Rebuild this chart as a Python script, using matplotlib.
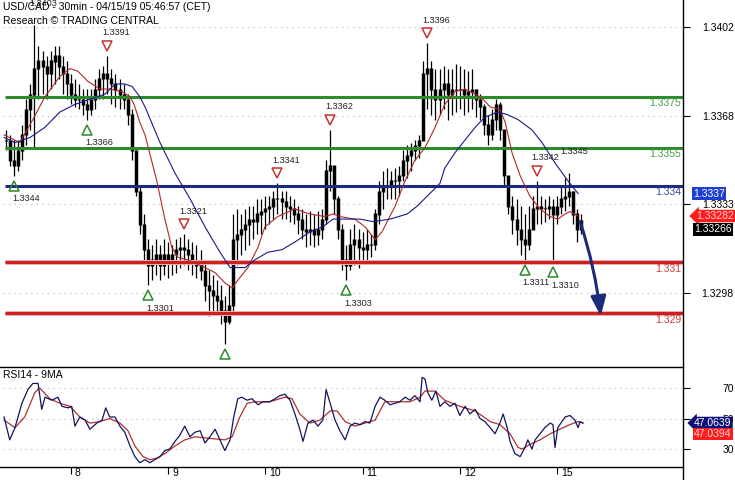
"""USD/CAD 30min chart with support/resistance levels, MAs and RSI panel."""
import numpy as np
import matplotlib
matplotlib.use("Agg")
import matplotlib.pyplot as plt
import matplotlib.transforms as mtrans
from matplotlib.lines import Line2D

plt.rcParams["font.family"] = ["Liberation Sans", "DejaVu Sans"]

# ---- data: hourly bars, x = hours from Mon 04/08 00:00 (trading time) ----
bar_h = list(range(-16, 127))
high = [
    1.3362, 1.3360, 1.3358, 1.3358, 1.3364, 1.3374, 1.3380, 1.3403, 1.3395, 1.3393,
    1.3391, 1.3393, 1.3395, 1.3395, 1.3391, 1.3389, 1.3384, 1.3382, 1.3380, 1.3378,
    1.3378, 1.3378, 1.3382, 1.3386, 1.3387, 1.3391, 1.3386, 1.3384, 1.3382, 1.3380,
    1.3376, 1.3370, 1.3354, 1.3340, 1.3329, 1.3319, 1.3317, 1.3319, 1.3317, 1.3319,
    1.3318, 1.3317, 1.3319, 1.3320, 1.3321, 1.3319, 1.3318, 1.3317, 1.3315, 1.3310,
    1.3307, 1.3305, 1.3303, 1.3301, 1.3297, 1.3301, 1.3329, 1.3331, 1.3329, 1.3331,
    1.3332, 1.3332, 1.3335, 1.3335, 1.3336, 1.3336, 1.3338, 1.3341, 1.3338, 1.3338,
    1.3336, 1.3335, 1.3332, 1.3331, 1.3329, 1.3330, 1.3329, 1.3330, 1.3331, 1.3350,
    1.3362, 1.3348, 1.3336, 1.3325, 1.3317, 1.3323, 1.3325, 1.3323, 1.3322, 1.3323,
    1.3321, 1.3331, 1.3342, 1.3346, 1.3347, 1.3346, 1.3347, 1.3348, 1.3354, 1.3356,
    1.3357, 1.3358, 1.3360, 1.3389, 1.3396, 1.3389, 1.3386, 1.3386, 1.3387, 1.3386,
    1.3386, 1.3388, 1.3387, 1.3386, 1.3385, 1.3386, 1.3378, 1.3376, 1.3372, 1.3368,
    1.3370, 1.3374, 1.3373, 1.3362, 1.3344, 1.3336, 1.3335, 1.3332, 1.3329, 1.3332,
    1.3336, 1.3342, 1.3336, 1.3335, 1.3336, 1.3335, 1.3336, 1.3340, 1.3343, 1.3345,
    1.3338, 1.3331, 1.3329]
low = [
    1.3354, 1.3348, 1.3344, 1.3346, 1.3350, 1.3356, 1.3362, 1.3355, 1.3374, 1.3376,
    1.3374, 1.3378, 1.3380, 1.3382, 1.3376, 1.3374, 1.3372, 1.3371, 1.3370, 1.3368,
    1.3366, 1.3368, 1.3370, 1.3374, 1.3374, 1.3376, 1.3372, 1.3371, 1.3370, 1.3370,
    1.3364, 1.3350, 1.3336, 1.3321, 1.3310, 1.3301, 1.3303, 1.3305, 1.3303, 1.3305,
    1.3304, 1.3305, 1.3306, 1.3308, 1.3309, 1.3307, 1.3305, 1.3304, 1.3303, 1.3295,
    1.3289, 1.3291, 1.3291, 1.3286, 1.3278, 1.3286, 1.3291, 1.3309, 1.3313, 1.3315,
    1.3317, 1.3319, 1.3321, 1.3321, 1.3323, 1.3325, 1.3327, 1.3329, 1.3327, 1.3327,
    1.3326, 1.3325, 1.3321, 1.3319, 1.3316, 1.3317, 1.3316, 1.3317, 1.3319, 1.3325,
    1.3338, 1.3329, 1.3319, 1.3307, 1.3303, 1.3307, 1.3309, 1.3308, 1.3310, 1.3310,
    1.3312, 1.3315, 1.3325, 1.3331, 1.3335, 1.3335, 1.3335, 1.3336, 1.3342, 1.3343,
    1.3346, 1.3350, 1.3351, 1.3358, 1.3370, 1.3368, 1.3366, 1.3368, 1.3370, 1.3366,
    1.3368, 1.3369, 1.3370, 1.3368, 1.3369, 1.3370, 1.3367, 1.3366, 1.3360, 1.3356,
    1.3358, 1.3362, 1.3358, 1.3340, 1.3329, 1.3321, 1.3317, 1.3313, 1.3311, 1.3315,
    1.3323, 1.3325, 1.3325, 1.3326, 1.3327, 1.3310, 1.3325, 1.3329, 1.3330, 1.3332,
    1.3325, 1.3318, 1.3321]
close = [
    1.3358, 1.3350, 1.3348, 1.3354, 1.3360, 1.3370, 1.3376, 1.3386, 1.3389, 1.3387,
    1.3384, 1.3389, 1.3391, 1.3387, 1.3384, 1.3380, 1.3376, 1.3374, 1.3374, 1.3372,
    1.3370, 1.3374, 1.3378, 1.3382, 1.3384, 1.3382, 1.3380, 1.3378, 1.3376, 1.3374,
    1.3368, 1.3354, 1.3338, 1.3325, 1.3315, 1.3309, 1.3311, 1.3313, 1.3309, 1.3313,
    1.3311, 1.3313, 1.3315, 1.3316, 1.3315, 1.3313, 1.3310, 1.3309, 1.3307, 1.3301,
    1.3299, 1.3297, 1.3295, 1.3291, 1.3287, 1.3293, 1.3319, 1.3321, 1.3323, 1.3325,
    1.3327, 1.3326, 1.3329, 1.3330, 1.3331, 1.3332, 1.3335, 1.3335, 1.3334, 1.3332,
    1.3331, 1.3329, 1.3327, 1.3323, 1.3322, 1.3323, 1.3321, 1.3323, 1.3327, 1.3346,
    1.3348, 1.3335, 1.3323, 1.3311, 1.3309, 1.3317, 1.3319, 1.3316, 1.3315, 1.3317,
    1.3317, 1.3329, 1.3338, 1.3340, 1.3340, 1.3342, 1.3342, 1.3344, 1.3350, 1.3352,
    1.3354, 1.3356, 1.3358, 1.3384, 1.3386, 1.3378, 1.3374, 1.3378, 1.3380, 1.3376,
    1.3378, 1.3378, 1.3378, 1.3376, 1.3377, 1.3378, 1.3374, 1.3371, 1.3364, 1.3360,
    1.3366, 1.3372, 1.3362, 1.3344, 1.3332, 1.3327, 1.3323, 1.3319, 1.3317, 1.3323,
    1.3331, 1.3332, 1.3331, 1.3331, 1.3332, 1.3329, 1.3332, 1.3335, 1.3336, 1.3338,
    1.3329, 1.3323, 1.33266]

ma_fast_h = [-16.5, -12.6, -9.4, -6.4, -2.7, -0.2, 1.7, 4.2, 7.2, 9.6,
             12.6, 14.6, 15.6, 17.0, 18.3, 21.2, 23.2, 24.9, 26.4, 28.9,
             33.1, 35.6, 38.0, 39.8, 41.2, 43.7, 46.2, 47.9, 51.1, 55.3,
             59.0, 62.7, 64.7, 66.4, 70.1, 72.6, 75.1, 76.8, 80.0, 82.5,
             84.9, 87.4, 89.9, 92.3, 94.8, 97.3, 99.8, 101.7, 103.5, 105.9,
             107.2, 108.9, 110.9, 113.3, 115.8, 118.3, 120.2, 122.0, 123.2, 125.2]
ma_fast_p = [1.3360, 1.3357, 1.3366, 1.3375, 1.3383, 1.3386, 1.3385, 1.3381, 1.3378, 1.3378,
             1.3377, 1.3375, 1.3372, 1.3365, 1.3360, 1.3342, 1.3327, 1.3316, 1.3312, 1.3311,
             1.3308, 1.3306, 1.3302, 1.3300, 1.3303, 1.3308, 1.3316, 1.3324, 1.3328, 1.3331,
             1.3329, 1.3328, 1.3329, 1.3328, 1.3327, 1.3324, 1.3319, 1.3322, 1.3332, 1.3342,
             1.3350, 1.3355, 1.3363, 1.3372, 1.3377, 1.3378, 1.3376, 1.3374, 1.3371, 1.3370,
             1.3365, 1.3353, 1.3344, 1.3336, 1.3331, 1.3328, 1.3327, 1.3329, 1.3330, 1.33282]
ma_slow_h = [-16.5, -13.8, -10.1, -6.4, -2.7, 1.0, 4.7, 8.4, 10.9, 13.3,
             15.1, 17.0, 18.3, 22.0, 25.7, 29.4, 33.1, 36.8, 39.3, 40.5,
             43.0, 45.4, 48.6, 52.1, 55.3, 59.0, 62.2, 64.7, 67.7, 71.4,
             74.6, 78.8, 83.0, 85.4, 88.6, 91.1, 92.3, 94.8, 99.8, 102.2,
             105.4, 107.7, 110.4, 113.8, 116.3, 119.5, 122.7, 125.2]
ma_slow_p = [1.3359, 1.3357, 1.3359, 1.3363, 1.3369, 1.3372, 1.3374, 1.3376, 1.3380, 1.3380,
             1.3379, 1.3375, 1.3371, 1.3357, 1.3345, 1.3335, 1.3324, 1.3314, 1.3308, 1.3308,
             1.3308, 1.3311, 1.3314, 1.3315, 1.3318, 1.3322, 1.3324, 1.3327, 1.3327, 1.3327,
             1.3326, 1.3327, 1.3329, 1.3332, 1.3337, 1.3341, 1.3347, 1.3353, 1.3363, 1.3367,
             1.3369, 1.3368, 1.3366, 1.3362, 1.3357, 1.3349, 1.3342, 1.3337]

rsi_h = [-16.5, -15.1, -13.8, -12.1, -10.6, -9.4, -8.1, -7.2, -6.4, -4.7,
         -3.2, -2.2, -0.7, 0.2, 1.0, 2.2, 3.5, 4.7, 6.4, 7.7,
         8.6, 9.6, 10.9, 12.1, 13.3, 14.6, 15.8, 17.0, 18.3, 19.5,
         20.7, 22.0, 23.2, 24.4, 25.7, 26.9, 28.1, 29.4, 30.6, 31.9,
         33.1, 34.3, 35.6, 36.8, 38.0, 39.3, 40.2, 41.2, 42.2, 43.5,
         44.7, 46.2, 47.4, 49.1, 50.4, 51.6, 52.8, 54.1, 55.3, 56.5,
         57.3, 58.5, 59.8, 61.0, 62.2, 63.0, 64.0, 65.2, 66.4, 67.7,
         68.9, 70.1, 71.4, 72.6, 73.8, 75.1, 76.3, 77.5, 78.8, 80.0,
         81.2, 82.5, 83.7, 84.9, 86.2, 86.7, 87.4, 88.1, 89.1, 90.1,
         91.1, 92.3, 93.6, 94.8, 96.0, 97.3, 98.5, 99.8, 101.0, 102.2,
         103.5, 104.7, 105.9, 106.7, 107.7, 108.4, 109.6, 110.9, 112.1, 112.8,
         113.8, 114.6, 115.8, 117.0, 118.3, 119.0, 119.5, 120.2, 121.2, 122.0,
         123.2, 124.4, 125.2, 125.7, 126.4]
rsi_v = [51, 36, 44, 60, 69, 73, 73, 56, 64, 62,
         64, 58, 57, 58, 45, 51, 49, 43, 47, 49,
         57, 51, 51, 45, 41, 32, 25, 21, 23, 21,
         23, 25, 29, 30, 35, 39, 45, 38, 41, 42,
         34, 38, 43, 36, 29, 36, 51, 63, 64, 62,
         63, 59, 61, 61, 63, 65, 66, 62, 53, 43,
         35, 47, 49, 45, 49, 69, 60, 49, 42, 36,
         45, 47, 46, 48, 47, 58, 64, 62, 59, 60,
         61, 64, 62, 65, 61, 77, 76, 67, 62, 68,
         58, 61, 58, 60, 52, 58, 53, 56, 50, 48,
         44, 40, 47, 53, 44, 35, 27, 25, 31, 36,
         30, 36, 40, 44, 47, 46, 31, 44, 48, 51,
         52, 49, 44, 48, 47.0639]
rsi_ma_h = [-16.5, -13.8, -11.4, -8.9, -7.7, -5.2, -2.7, -0.2, 2.2, 4.7,
            7.2, 9.6, 12.1, 14.1, 15.8, 17.8, 19.5, 21.2, 23.2, 25.7,
            28.1, 30.6, 34.3, 38.0, 39.8, 41.7, 43.5, 45.4, 49.1, 52.8,
            54.6, 56.5, 59.0, 61.5, 64.0, 65.7, 67.7, 70.1, 72.6, 75.1,
            77.5, 80.0, 83.7, 86.2, 87.4, 89.9, 92.3, 96.0, 99.8, 103.5,
            105.9, 108.4, 110.4, 111.4, 113.3, 115.8, 118.3, 120.7, 123.2, 125.2,
            126.4]
rsi_ma_v = [49, 44, 51, 67, 70, 63, 60, 58, 51, 47,
            48, 50, 47, 42, 32, 25, 23, 24, 27, 32,
            36, 38, 37, 36, 38, 51, 60, 61, 61, 64,
            63, 53, 47, 49, 55, 55, 48, 45, 47, 49,
            61, 61, 61, 64, 68, 68, 62, 58, 55, 48,
            46, 40, 31, 30, 33, 36, 40, 43, 46, 48,
            47.0394]

levels = [1.3375, 1.3355, 1.3340, 1.3310, 1.3290]
level_txt = ["1.3375", "1.3355", "1.334", "1.331", "1.329"]
level_kind = ["res", "res", "pivot", "sup", "sup"]

peak_h = [9, 28, 51, 64, 88, 115]
peak_p = [1.3391, 1.3321, 1.3341, 1.3362, 1.3396, 1.3342]
trough_h = [-14, 4, 19, 38, 68, 112, 119]
trough_p = [1.3344, 1.3366, 1.3301, 1.3278, 1.3303, 1.3311, 1.3310]
plain_h = [-9, 122]            # swing labels drawn without a marker
plain_p = [1.3403, 1.3345]

forecast_h = [125.7, 130.8]
forecast_p = [1.3326, 1.3289]

price_ticks = [1.34022, 1.33675, 1.33328, 1.32981]
price_tick_txt = ["1.3402", "1.3368", "1.3333", "1.3298"]
day_ticks = [0, 24, 48, 72, 96, 120]
day_txt = ["8", "9", "10", "11", "12", "15"]

# ---- colours ----
GREEN, NAVY, RED = "#2c8c2c", "#1c2b80", "#cc2020"
LVL_COL = {"res": GREEN, "pivot": NAVY, "sup": RED}
LVL_TXT = {"res": "#4a9c4a", "pivot": "#3343a6", "sup": "#d23a3a"}
DOT = (0, (1, 4))

W, H = 735, 480
fig = plt.figure(figsize=(W / 100, H / 100), dpi=100)
ax = fig.add_axes([0, 118 / H, 683 / W, 362 / H])
rx = fig.add_axes([0, 13 / H, 683 / W, 100 / H])
XL = (-17.5, 151.1)

# ---------------- main price panel ----------------
for t in price_ticks:
    ax.axhline(t, xmin=3 / 683, color="#b8b8b8", lw=0.8, ls=DOT, zorder=0)

opens = [close[0]] + close[:-1]
ax.vlines(bar_h, low, high, color="k", lw=0.9, zorder=2)
ax.vlines(bar_h, np.minimum(opens, close) - 0.00002, np.maximum(opens, close) + 0.00002,
          color="k", lw=2.5, zorder=2)

x0 = (5 - 71) / 4.05
for lv, kind in zip(levels, level_kind):
    if kind == "sup":
        ax.hlines(lv, x0, XL[1], color="#f0b0b0", lw=3.6, zorder=3)
    ax.hlines(lv, x0, XL[1], color=LVL_COL[kind], lw=2.2, zorder=3)

ax.plot(ma_fast_h, ma_fast_p, color="#b02a2a", lw=0.8, zorder=4)
ax.plot(ma_slow_h, ma_slow_p, color="#1a1a86", lw=0.8, zorder=4)

blend = mtrans.blended_transform_factory(ax.transAxes, ax.transData)
for lv, txt, kind in zip(levels, level_txt, level_kind):
    ax.text(681 / 683, lv, txt, transform=blend + mtrans.Affine2D().translate(0, -6.5),
            ha="right", va="center", fontsize=7.5, color=LVL_TXT[kind], zorder=5)


def off(dx, dy):
    return mtrans.offset_copy(ax.transData, fig=fig, x=dx, y=dy, units="dots")


for h, p in zip(peak_h, peak_p):
    ax.plot(h, p, marker="v", ms=7, mfc="none", mec="#c83232", mew=1.1, transform=off(0, 10), zorder=6)
    ax.text(h, p, f"{p:.4f}", transform=off(-5, 23), ha="left", va="center", fontsize=6.6, color="#222222")
for h, p in zip(trough_h, trough_p):
    ax.plot(h, p, marker="^", ms=7, mfc="none", mec="#2a8a2a", mew=1.1, transform=off(0, -10), zorder=6)
    if p > 1.3280:  # the deepest low's label falls off the panel
        ax.text(h, p, f"{p:.4f}", transform=off(-2, -23), ha="left", va="center", fontsize=6.6, color="#222222")
for h, p in zip(plain_h, plain_p):
    ax.text(h, p, f"{p:.4f}", transform=off(-5, 22), ha="left", va="center", fontsize=6.6, color="#222222")

ax.annotate("", xy=(forecast_h[1], forecast_p[1]), xytext=(forecast_h[0], forecast_p[0]),
            arrowprops=dict(arrowstyle="-|>,head_length=0.9,head_width=0.35", color="#1c2a7a",
                            lw=2.2, mutation_scale=13, shrinkA=0, shrinkB=0,
                            connectionstyle="arc3,rad=-0.05"), zorder=7)

ax.set_xlim(*XL)
ax.set_ylim(1.327096, 1.341292)
ax.set_yticks(price_ticks, price_tick_txt)
ax.tick_params(axis="y", left=False, labelleft=False, right=True, labelright=True,
               length=5, width=0.8, pad=31.5, labelsize=7.5)
for lab in ax.get_yticklabels():
    lab.set_ha("right")
ax.tick_params(axis="x", bottom=False, labelbottom=False)
for s in ax.spines.values():
    s.set_visible(False)

# value boxes on the price scale
last_close = close[-1]
red_val = ma_fast_p[-1]
blue_val = ma_slow_p[-1]
black_pos = min(last_close, red_val - 0.00052)
box = dict(fontsize=7.5, ha="left", va="center", transform=blend, clip_on=False, zorder=10)
ax.text(693 / 683, blue_val, f"{blue_val:.4f}", color="white",
        bbox=dict(boxstyle="square,pad=0.12", fc="#1f3fd0", ec="none"), **box)
ax.text(696 / 683, red_val, f"{red_val:.5f}", color="#ffd8d8",
        bbox=dict(boxstyle="larrow,pad=0.12", fc="#ff1c1c", ec="none"), **box)
ax.text(694 / 683, black_pos, f"{last_close:.5f}", color="white",
        bbox=dict(boxstyle="square,pad=0.12", fc="black", ec="none"), **box)

# ---------------- RSI panel ----------------
for t in [30, 50, 70]:
    rx.axhline(t, xmin=3 / 683, color="#b8b8b8", lw=0.8, ls=DOT, zorder=0)
rx.plot(rsi_ma_h, rsi_ma_v, color="#b03030", lw=0.9, zorder=3)
rx.plot(rsi_h, rsi_v, color="#14145e", lw=0.9, zorder=4)
rx.set_xlim(*XL)
rx.set_ylim(18.2, 83.8)
rx.set_yticks([30, 50, 70], ["30", "50", "70"])
rx.tick_params(axis="y", left=False, labelleft=False, right=True, labelright=True,
               length=5, width=0.8, pad=31.5, labelsize=7.5)
for lab in rx.get_yticklabels():
    lab.set_ha("right")
rx.set_xticks(day_ticks, [""] * len(day_ticks))
rx.tick_params(axis="x", length=5, width=0.8, direction="out")
xblend = mtrans.blended_transform_factory(rx.transData, rx.transAxes)
for h, txt in zip(day_ticks, day_txt):
    rx.text(h + 1.0, -0.065, txt, transform=xblend, ha="left", va="center", fontsize=7.5)
for side in ["left", "right"]:
    rx.spines[side].set_visible(False)
for side in ["top", "bottom"]:
    rx.spines[side].set_linewidth(1.0)
rx.text(3 / 683, 0.92, "RSI14 - 9MA", transform=rx.transAxes, fontsize=7.5, va="center")

rblend = mtrans.blended_transform_factory(rx.transAxes, rx.transData)
rsi_last, rsi_ma_last = rsi_v[-1], rsi_ma_v[-1]
rbox = dict(fontsize=7.5, ha="left", va="center", transform=rblend, clip_on=False, zorder=10)
rx.text(694 / 683, rsi_last, f"{rsi_last:.4f}", color="white",
        bbox=dict(boxstyle="larrow,pad=0.12", fc="#0e0e78", ec="none"), **rbox)
rx.text(694 / 683, min(rsi_ma_last, rsi_last - 7.2), f"{rsi_ma_last:.4f}", color="#ffd8d8",
        bbox=dict(boxstyle="square,pad=0.12", fc="#ff1c1c", ec="none"), **rbox)

# price-scale border line across both panels
fig.add_artist(Line2D([683 / W, 683 / W], [0, 1], transform=fig.transFigure, color="k", lw=1.0))

fig.text(3 / W, 1 - 7 / H, "USD/CAD - 30min - 04/15/19 05:46:57 (CET)", fontsize=7.5, va="center")
fig.text(3 / W, 1 - 21 / H, "Research © TRADING CENTRAL", fontsize=7.5, va="center")

fig.savefig("out.png", dpi=100)
